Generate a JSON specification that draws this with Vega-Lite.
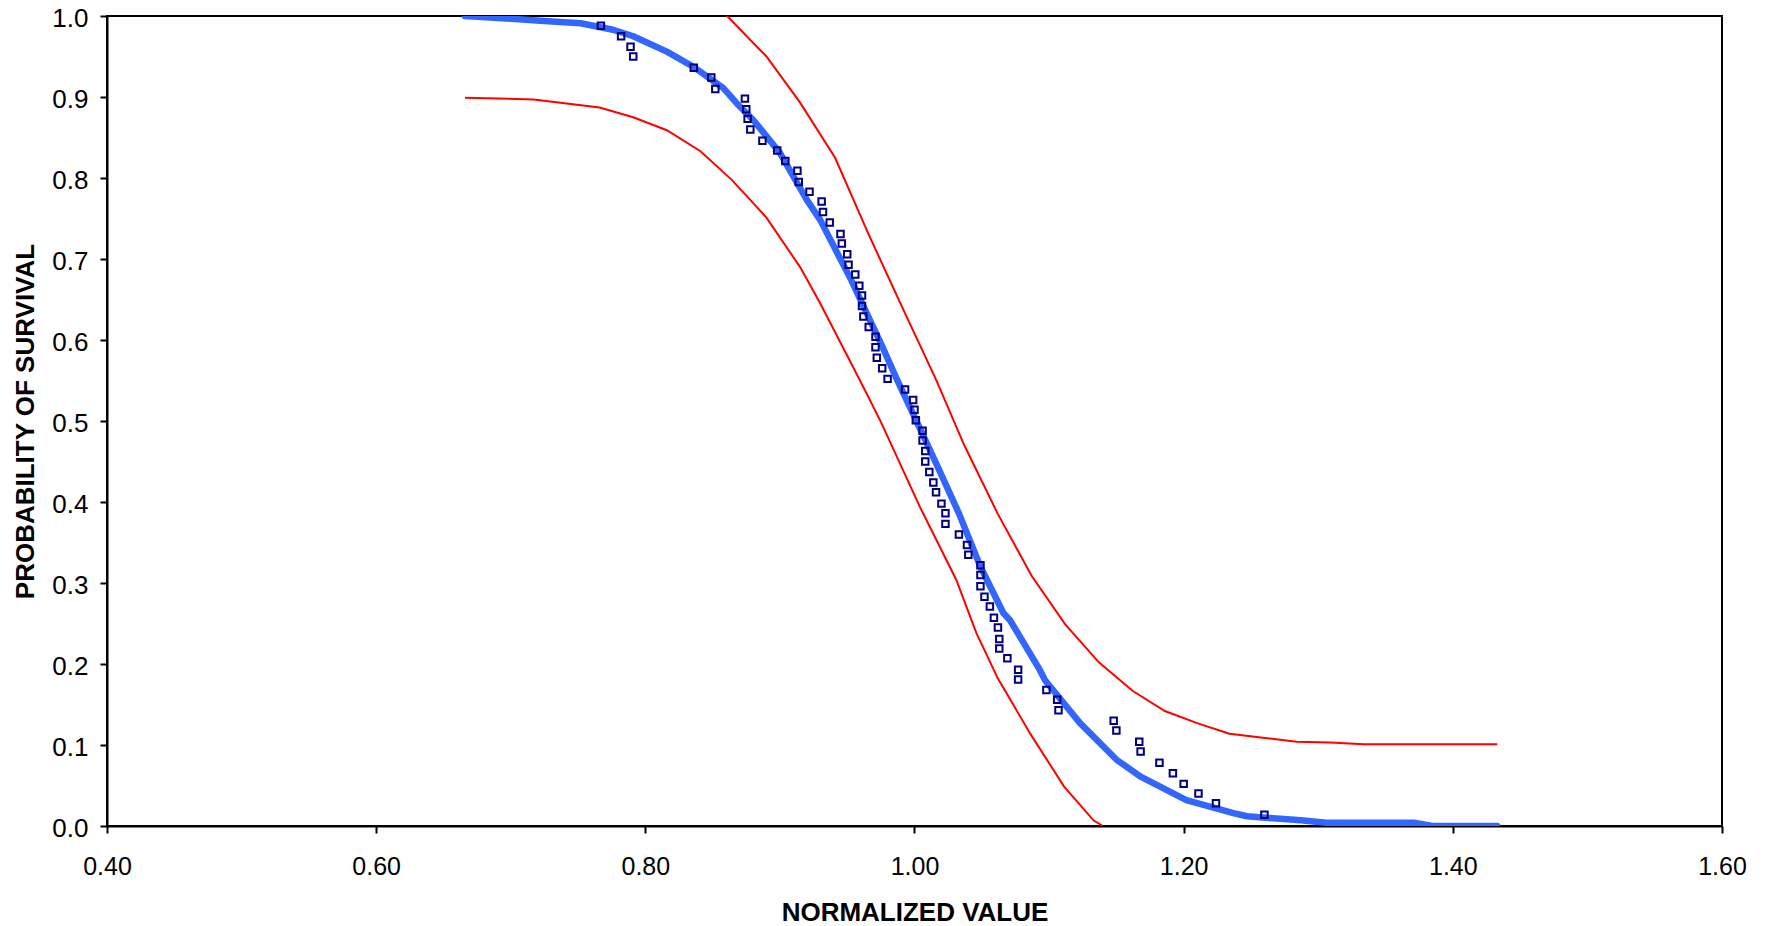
{
  "$schema": "https://vega.github.io/schema/vega-lite/v6.json",
  "width": 1615,
  "height": 810,
  "autosize": {"type": "none"},
  "padding": {"left": 107, "top": 16, "right": 46, "bottom": 100},
  "background": "white",
  "config": {
    "view": {"stroke": "black", "strokeWidth": 2},
    "axis": {
      "grid": false,
      "domainColor": "black",
      "domainWidth": 2,
      "tickColor": "black",
      "tickWidth": 2,
      "tickSize": 7,
      "labelFont": "Liberation Sans",
      "labelFontSize": 24,
      "labelColor": "black",
      "labelFlush": false,
      "labelOverlap": false,
      "titleFont": "Liberation Sans",
      "titleFontSize": 26,
      "titleFontWeight": "bold",
      "titleColor": "black"
    }
  },
  "datasets": {
    "fit": [
      {"x": 0.666, "y": 1.000}, {"x": 0.697, "y": 0.997}, {"x": 0.722, "y": 0.994},
      {"x": 0.752, "y": 0.991}, {"x": 0.776, "y": 0.983}, {"x": 0.791, "y": 0.975},
      {"x": 0.816, "y": 0.956}, {"x": 0.836, "y": 0.937}, {"x": 0.858, "y": 0.911},
      {"x": 0.868, "y": 0.892}, {"x": 0.880, "y": 0.872}, {"x": 0.900, "y": 0.831},
      {"x": 0.920, "y": 0.773}, {"x": 0.930, "y": 0.748}, {"x": 0.953, "y": 0.674},
      {"x": 0.976, "y": 0.592}, {"x": 0.987, "y": 0.551}, {"x": 1.004, "y": 0.491},
      {"x": 1.016, "y": 0.448}, {"x": 1.033, "y": 0.386}, {"x": 1.049, "y": 0.320},
      {"x": 1.066, "y": 0.263}, {"x": 1.071, "y": 0.254}, {"x": 1.093, "y": 0.193},
      {"x": 1.097, "y": 0.180}, {"x": 1.123, "y": 0.127}, {"x": 1.150, "y": 0.082},
      {"x": 1.168, "y": 0.061}, {"x": 1.202, "y": 0.032}, {"x": 1.237, "y": 0.016},
      {"x": 1.247, "y": 0.012}, {"x": 1.287, "y": 0.007}, {"x": 1.306, "y": 0.004},
      {"x": 1.371, "y": 0.004}, {"x": 1.385, "y": 0.000}, {"x": 1.433, "y": 0.000}
    ],
    "lower": [
      {"x": 0.666, "y": 0.899}, {"x": 0.717, "y": 0.897}, {"x": 0.766, "y": 0.887},
      {"x": 0.791, "y": 0.875}, {"x": 0.816, "y": 0.859}, {"x": 0.841, "y": 0.833},
      {"x": 0.864, "y": 0.798}, {"x": 0.878, "y": 0.773}, {"x": 0.890, "y": 0.751},
      {"x": 0.915, "y": 0.690}, {"x": 0.930, "y": 0.645}, {"x": 0.962, "y": 0.542},
      {"x": 0.975, "y": 0.499}, {"x": 1.004, "y": 0.394}, {"x": 1.031, "y": 0.304},
      {"x": 1.046, "y": 0.238}, {"x": 1.062, "y": 0.182}, {"x": 1.086, "y": 0.114},
      {"x": 1.111, "y": 0.049}, {"x": 1.133, "y": 0.007}, {"x": 1.140, "y": 0.000}
    ],
    "upper": [
      {"x": 0.859, "y": 1.003}, {"x": 0.890, "y": 0.950}, {"x": 0.915, "y": 0.893},
      {"x": 0.941, "y": 0.825}, {"x": 0.966, "y": 0.730}, {"x": 0.991, "y": 0.640},
      {"x": 1.016, "y": 0.551}, {"x": 1.037, "y": 0.470}, {"x": 1.062, "y": 0.385},
      {"x": 1.087, "y": 0.309}, {"x": 1.112, "y": 0.249}, {"x": 1.137, "y": 0.202},
      {"x": 1.162, "y": 0.167}, {"x": 1.186, "y": 0.142}, {"x": 1.210, "y": 0.127},
      {"x": 1.234, "y": 0.114}, {"x": 1.259, "y": 0.109}, {"x": 1.284, "y": 0.104},
      {"x": 1.309, "y": 0.103}, {"x": 1.334, "y": 0.101}, {"x": 1.433, "y": 0.101}
    ],
    "obs": [
      {"x": 0.767, "y": 0.988}, {"x": 0.782, "y": 0.975}, {"x": 0.789, "y": 0.962},
      {"x": 0.791, "y": 0.950}, {"x": 0.836, "y": 0.936}, {"x": 0.849, "y": 0.924},
      {"x": 0.852, "y": 0.910}, {"x": 0.874, "y": 0.898}, {"x": 0.875, "y": 0.885},
      {"x": 0.876, "y": 0.873}, {"x": 0.878, "y": 0.860}, {"x": 0.887, "y": 0.846},
      {"x": 0.898, "y": 0.834}, {"x": 0.904, "y": 0.821}, {"x": 0.913, "y": 0.809},
      {"x": 0.914, "y": 0.795}, {"x": 0.922, "y": 0.783}, {"x": 0.931, "y": 0.771},
      {"x": 0.932, "y": 0.758}, {"x": 0.937, "y": 0.745}, {"x": 0.945, "y": 0.731},
      {"x": 0.946, "y": 0.719}, {"x": 0.950, "y": 0.706}, {"x": 0.951, "y": 0.693},
      {"x": 0.956, "y": 0.681}, {"x": 0.959, "y": 0.667}, {"x": 0.961, "y": 0.655},
      {"x": 0.961, "y": 0.642}, {"x": 0.962, "y": 0.629}, {"x": 0.966, "y": 0.616},
      {"x": 0.971, "y": 0.604}, {"x": 0.971, "y": 0.591}, {"x": 0.972, "y": 0.578},
      {"x": 0.976, "y": 0.565}, {"x": 0.980, "y": 0.552}, {"x": 0.993, "y": 0.539},
      {"x": 0.999, "y": 0.526}, {"x": 1.000, "y": 0.514}, {"x": 1.001, "y": 0.501},
      {"x": 1.006, "y": 0.488}, {"x": 1.006, "y": 0.476}, {"x": 1.008, "y": 0.463},
      {"x": 1.008, "y": 0.450}, {"x": 1.011, "y": 0.437}, {"x": 1.014, "y": 0.424},
      {"x": 1.016, "y": 0.412}, {"x": 1.020, "y": 0.398}, {"x": 1.023, "y": 0.386},
      {"x": 1.023, "y": 0.373}, {"x": 1.033, "y": 0.360}, {"x": 1.039, "y": 0.347},
      {"x": 1.040, "y": 0.335}, {"x": 1.049, "y": 0.322}, {"x": 1.049, "y": 0.310},
      {"x": 1.049, "y": 0.296}, {"x": 1.052, "y": 0.283}, {"x": 1.056, "y": 0.271},
      {"x": 1.059, "y": 0.257}, {"x": 1.062, "y": 0.245}, {"x": 1.063, "y": 0.231},
      {"x": 1.063, "y": 0.219}, {"x": 1.069, "y": 0.207}, {"x": 1.077, "y": 0.193},
      {"x": 1.077, "y": 0.181}, {"x": 1.098, "y": 0.168}, {"x": 1.106, "y": 0.156},
      {"x": 1.107, "y": 0.143}, {"x": 1.148, "y": 0.130}, {"x": 1.150, "y": 0.118},
      {"x": 1.167, "y": 0.104}, {"x": 1.168, "y": 0.092}, {"x": 1.182, "y": 0.078},
      {"x": 1.192, "y": 0.065}, {"x": 1.200, "y": 0.052}, {"x": 1.211, "y": 0.040},
      {"x": 1.224, "y": 0.028}, {"x": 1.260, "y": 0.014}
    ]
  },
  "layer": [
    {
      "data": {"name": "fit"},
      "mark": {"type": "line", "color": "#3366ff", "strokeWidth": 6.5, "strokeCap": "round", "strokeJoin": "round", "clip": true},
      "encoding": {
        "x": {
          "field": "x", "type": "quantitative",
          "scale": {"domain": [0.4, 1.6], "nice": false, "zero": false},
          "axis": {
            "title": "NORMALIZED VALUE",
            "values": [0.4, 0.6, 0.8, 1.0, 1.2, 1.4, 1.6],
            "format": ".2f",
            "labelFontSize": 25,
            "labelPadding": 21,
            "titleBaseline": "alphabetic",
            "titleY": 94
          }
        },
        "y": {
          "field": "y", "type": "quantitative",
          "scale": {"domain": [0, 1], "nice": false},
          "axis": {
            "title": "PROBABILITY OF SURVIVAL",
            "values": [0, 0.1, 0.2, 0.3, 0.4, 0.5, 0.6, 0.7, 0.8, 0.9, 1.0],
            "format": ".1f",
            "labelFontSize": 26,
            "labelPadding": 12,
            "labelOffset": 2,
            "titleAngle": -90,
            "titleAlign": "center",
            "titleBaseline": "alphabetic",
            "titleX": -74,
            "titleY": 405
          }
        },
        "order": {"field": "x", "type": "quantitative"}
      }
    },
    {
      "data": {"name": "lower"},
      "mark": {"type": "line", "color": "#ff0000", "strokeWidth": 2, "clip": true},
      "encoding": {
        "x": {"field": "x", "type": "quantitative"},
        "y": {"field": "y", "type": "quantitative"},
        "order": {"field": "x", "type": "quantitative"}
      }
    },
    {
      "data": {"name": "upper"},
      "mark": {"type": "line", "color": "#ff0000", "strokeWidth": 2, "clip": true},
      "encoding": {
        "x": {"field": "x", "type": "quantitative"},
        "y": {"field": "y", "type": "quantitative"},
        "order": {"field": "x", "type": "quantitative"}
      }
    },
    {
      "data": {"name": "obs"},
      "mark": {"type": "point", "shape": "square", "filled": false, "color": "#000080", "size": 42, "strokeWidth": 2, "opacity": 1},
      "encoding": {
        "x": {"field": "x", "type": "quantitative"},
        "y": {"field": "y", "type": "quantitative"}
      }
    }
  ]
}
